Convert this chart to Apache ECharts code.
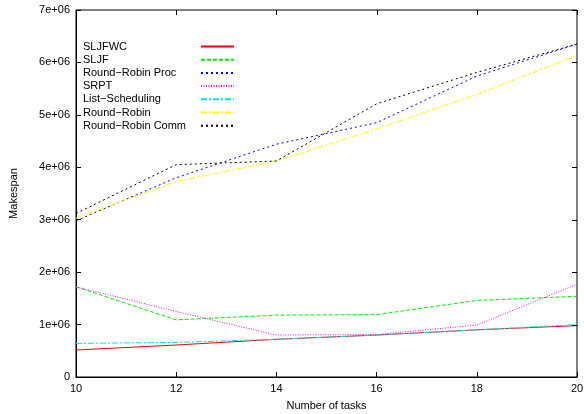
<!DOCTYPE html>
<html><head><meta charset="utf-8">
<script src="https://cdn.jsdelivr.net/npm/echarts@6/dist/echarts.min.js"></script>
<style>html,body{margin:0;padding:0;background:#fff;overflow:hidden}#c{width:584px;height:414px}</style>
</head><body><div id="c"></div>
<script>
const tasks = [10, 12, 14, 16, 18, 20];
const sljfwc = [0.515e6, 0.61e6, 0.72e6, 0.80e6, 0.90e6, 0.98e6];
const sljf = [1.72e6, 1.09e6, 1.18e6, 1.19e6, 1.46e6, 1.54e6];
const rrProc = [2.98e6, 3.80e6, 4.44e6, 4.85e6, 5.74e6, 6.35e6];
const srpt = [1.72e6, 1.25e6, 0.80e6, 0.81e6, 0.99e6, 1.77e6];
const listSched = [0.64e6, 0.66e6, 0.72e6, 0.80e6, 0.90e6, 1.00e6];
const rr = [3.03e6, 3.73e6, 4.12e6, 4.73e6, 5.39e6, 6.13e6];
const rrComm = [3.12e6, 4.05e6, 4.12e6, 5.21e6, 5.81e6, 6.35e6];
const yTicks = ['0','1e+06','2e+06','3e+06','4e+06','5e+06','6e+06','7e+06'];

const seriesDefs = [
  ['SLJFWC', sljfwc, '#ff0000', 'solid'],
  ['SLJF', sljf, '#00ee00', [4, 2]],
  ['Round\u2212Robin Proc', rrProc, '#0000ff', [2, 3]],
  ['SRPT', srpt, '#ff00ff', [1, 1.5]],
  ['List\u2212Scheduling', listSched, '#00e5ee', [6, 2, 2, 2]],
  ['Round\u2212Robin', rr, '#ffff00', [6, 2, 2, 2]],
  ['Round\u2212Robin Comm', rrComm, '#000000', [2, 3]]
];
const font = 'Liberation Sans, Arial, sans-serif';
const chart = echarts.init(document.getElementById('c'));
function axisCommon() {
  return {
    show: true,
    axisLine: {show: true, onZero: false, lineStyle: {color: '#000', width: 1}},
    axisTick: {show: true, inside: true, length: 5, lineStyle: {color: '#000', width: 1}},
    splitLine: {show: false}
  };
}
const series = seriesDefs.map(d => ({
  name: d[0], type: 'line', data: tasks.map((t, i) => [t, d[1][i]]),
  symbol: 'none', color: d[2],
  lineStyle: {color: d[2], width: 1, type: d[3]}
}));
// plot frame (gnuplot border) drawn through the axes' scales
series[0].markArea = {
  silent: true,
  itemStyle: {color: 'rgba(0,0,0,0)', borderColor: '#000', borderWidth: 1, borderType: 'solid'},
  label: {show: false},
  data: [[{xAxis: 10, yAxis: 0}, {xAxis: 20, yAxis: 7e6}]]
};
chart.setOption({
  animation: false,
  backgroundColor: '#fff',
  grid: {left: 76, right: 7, top: 10, bottom: 37, containLabel: false, outerBoundsMode: 'none'},
  legend: {
    orient: 'vertical', left: 78, top: 36, align: 'right',
    itemWidth: 33, itemHeight: 11, itemGap: 2.2,
    itemStyle: {opacity: 0},
    formatter: (n) => '{a|' + n + '}',
    textStyle: {fontFamily: font, fontSize: 11, color: '#000',
      rich: {a: {fontFamily: font, fontSize: 11, color: '#000', width: 113, align: 'left'}}},
    data: seriesDefs.map(d => d[0])
  },
  xAxis: [
    Object.assign({type: 'value', min: 10, max: 20, interval: 2,
      name: 'Number of tasks', nameLocation: 'middle', nameGap: 23,
      nameTextStyle: {fontFamily: font, fontSize: 11, color: '#000'},
      axisLabel: {fontFamily: font, fontSize: 11, color: '#000', margin: 6}}, axisCommon())
  ],
  yAxis: [
    Object.assign({type: 'value', min: 0, max: 7e6, interval: 1e6,
      name: 'Makespan', nameLocation: 'middle', nameGap: 57, nameRotate: 90,
      nameTextStyle: {fontFamily: font, fontSize: 11, color: '#000'},
      axisLabel: {fontFamily: font, fontSize: 11, color: '#000', margin: 6,
        formatter: (v) => yTicks[Math.round(v / 1e6)]}}, axisCommon())
  ],
  series: series
});
// mirrored ticks (top/right), placed through the chart's own scales
const xTickVals = [10, 12, 14, 16, 18, 20];
const yTickVals = [0, 1e6, 2e6, 3e6, 4e6, 5e6, 6e6, 7e6];
const px = (x, y) => chart.convertToPixel({gridIndex: 0}, [x, y]);
const tl = px(10, 7e6), br = px(20, 0);
const g = [];
xTickVals.forEach(v => {
  const p = px(v, 7e6); const xx = Math.round(p[0]) + 0.5;
  g.push({type: 'line', z: 100, shape: {x1: xx, y1: tl[1], x2: xx, y2: tl[1] + 5}, style: {stroke: '#000', lineWidth: 1}});
});
yTickVals.forEach(v => {
  const p = px(20, v); const yy = Math.round(p[1]) + 0.5;
  g.push({type: 'line', z: 100, shape: {x1: br[0] - 5, y1: yy, x2: br[0], y2: yy}, style: {stroke: '#000', lineWidth: 1}});
});
chart.setOption({graphic: g});
</script></body></html>
